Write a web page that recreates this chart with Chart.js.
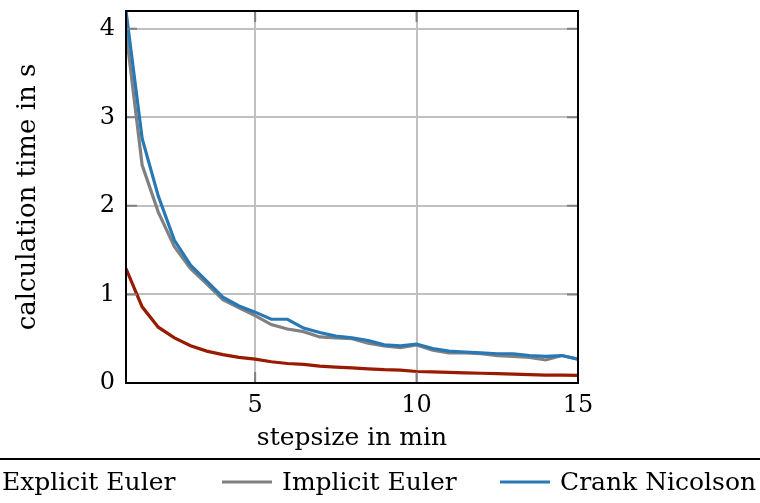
<!DOCTYPE html>
<html>
<head>
<meta charset="utf-8">
<script src="https://cdn.jsdelivr.net/npm/chart.js@4/dist/chart.umd.min.js"></script>
<style>
  html, body { margin: 0; padding: 0; background: #fff; overflow: hidden; }
  #wrap { width: 760px; height: 503px; position: relative; }
</style>
</head>
<body>
<div id="wrap"><canvas id="calc-chart"></canvas></div>
<script>
// step sizes in minutes
const stepsizes = [1, 1.5, 2, 2.5, 3, 3.5, 4, 4.5, 5, 5.5, 6, 6.5, 7, 7.5, 8,
  8.5, 9, 9.5, 10, 10.5, 11, 11.5, 12, 12.5, 13, 13.5, 14, 14.5, 15]

// calculation time in s
const explicitEuler = [1.29, 0.86, 0.63, 0.51, 0.42, 0.36, 0.32, 0.29, 0.27, 0.24,
  0.22, 0.21, 0.19, 0.18, 0.17, 0.16, 0.15, 0.145, 0.13, 0.125, 0.12, 0.115,
  0.11, 0.105, 0.1, 0.095, 0.09, 0.09, 0.085]
const implicitEuler = [3.97, 2.46, 1.93, 1.54, 1.29, 1.12, 0.94, 0.85, 0.76, 0.66,
  0.61, 0.58, 0.52, 0.51, 0.5, 0.45, 0.42, 0.4, 0.43, 0.37, 0.34, 0.34, 0.33,
  0.31, 0.3, 0.29, 0.26, 0.31, 0.27]
const crankNicolson = [4.2, 2.76, 2.11, 1.61, 1.33, 1.15, 0.97, 0.87, 0.8, 0.72,
  0.72, 0.62, 0.57, 0.53, 0.51, 0.48, 0.43, 0.42, 0.44, 0.39, 0.36, 0.35, 0.34,
  0.33, 0.33, 0.31, 0.3, 0.31, 0.27]

const seriesLabels = ['Explicit Euler', 'Implicit Euler', 'Crank Nicolson']
const seriesColors = ['#9a1a00', '#808080', '#2878b5']

const xTicks = [5, 10, 15]
const yTicks = [0, 1, 2, 3, 4]

const serif = 'DejaVu Serif'

const toPoints = (values) => values.map((v, i) => ({ x: stepsizes[i], y: v }))

// pgfplots-style frame and inward ticks
const framePlugin = {
  id: 'frame',
  afterDatasetsDraw(chart) {
    const { ctx, chartArea: a, scales } = chart
    ctx.save()
    ctx.strokeStyle = '#808080'
    ctx.lineWidth = 2
    const len = 11
    xTicks.forEach(v => {
      const px = scales.x.getPixelForValue(v)
      if (px >= a.right - 1) return
      ctx.beginPath()
      ctx.moveTo(px, a.bottom); ctx.lineTo(px, a.bottom - len)
      ctx.moveTo(px, a.top); ctx.lineTo(px, a.top + len)
      ctx.stroke()
    })
    yTicks.forEach(v => {
      const py = scales.y.getPixelForValue(v)
      if (py >= a.bottom - 1) return
      ctx.beginPath()
      ctx.moveTo(a.left, py); ctx.lineTo(a.left + len, py)
      ctx.moveTo(a.right, py); ctx.lineTo(a.right - len, py)
      ctx.stroke()
    })
    ctx.strokeStyle = '#000'
    ctx.lineWidth = 2
    ctx.strokeRect(a.left, a.top, a.right - a.left, a.bottom - a.top)
    ctx.restore()
  }
}

// legend row below the plot, partly outside the page like the original
const legendRow = {
  id: 'legendRow',
  afterDraw(chart) {
    const { ctx } = chart
    const textX = [2, 282, 560]
    ctx.save()
    ctx.strokeStyle = '#000'
    ctx.lineWidth = 2
    ctx.beginPath()
    ctx.moveTo(0, 459); ctx.lineTo(760, 459)
    ctx.stroke()
    ctx.font = `25px "${serif}"`
    ctx.fillStyle = '#000'
    ctx.textBaseline = 'alphabetic'
    chart.data.datasets.forEach((ds, i) => {
      const x = textX[i]
      ctx.strokeStyle = ds.borderColor
      ctx.lineWidth = 3
      ctx.beginPath()
      ctx.moveTo(x - 60, 482); ctx.lineTo(x - 10, 482)
      ctx.stroke()
      ctx.fillText(ds.label, x, 490)
    })
    ctx.restore()
  }
}

const datasets = [explicitEuler, implicitEuler, crankNicolson].map((values, i) => ({
  label: seriesLabels[i],
  data: toPoints(values),
  borderColor: seriesColors[i],
  backgroundColor: seriesColors[i],
  borderWidth: 3.2,
  pointRadius: 0,
  tension: 0,
  order: 2 - i
}))

new Chart(document.getElementById('calc-chart'), {
  type: 'line',
  data: { datasets },
  plugins: [framePlugin, legendRow],
  options: {
    responsive: true,
    maintainAspectRatio: false,
    animation: false,
    layout: { padding: { left: 0, right: 182, top: 11, bottom: 0 } },
    plugins: {
      legend: { display: false },
      tooltip: { enabled: false }
    },
    scales: {
      x: {
        type: 'linear',
        min: 1,
        max: 15,
        afterBuildTicks: scale => { scale.ticks = xTicks.map(v => ({ value: v })) },
        afterFit: scale => {
          scale.height = 120
          scale.paddingLeft = 0
          scale.paddingRight = 0
        },
        border: { display: false },
        grid: { color: '#c0c0c0', lineWidth: 2, drawTicks: false },
        ticks: { color: '#000', font: { family: serif, size: 24 }, padding: 8, maxRotation: 0 },
        title: {
          display: true,
          text: 'stepsize in min',
          color: '#000',
          font: { family: serif, size: 25 },
          padding: { top: 0, bottom: 50 }
        }
      },
      y: {
        min: 0,
        max: 4.2,
        afterBuildTicks: scale => { scale.ticks = yTicks.map(v => ({ value: v })) },
        afterFit: scale => {
          scale.width = 126
          scale.paddingTop = 0
          scale.paddingBottom = 0
        },
        border: { display: false },
        grid: { color: '#c0c0c0', lineWidth: 2, drawTicks: false },
        ticks: { color: '#000', font: { family: serif, size: 24 }, padding: 11 },
        title: {
          display: true,
          text: 'calculation time in s',
          color: '#000',
          font: { family: serif, size: 26 },
          padding: { top: 13, bottom: 0 }
        }
      }
    }
  }
})
</script>
</body>
</html>
